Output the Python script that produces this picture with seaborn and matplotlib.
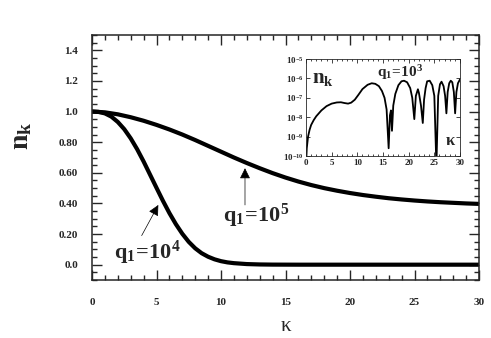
import numpy as np
import pandas as pd
import matplotlib
matplotlib.use('Agg')
import matplotlib.pyplot as plt
import seaborn as sns
from matplotlib.ticker import MultipleLocator, FixedLocator, FixedFormatter

# ---------------------------------------------------------
# data
# ---------------------------------------------------------
kappa_q1e4 = [0, 0.5, 1, 1.5, 2, 2.5, 3, 3.5, 4, 4.5, 5, 5.5, 6, 6.5, 7, 7.5,
              8, 8.5, 9, 9.5, 10, 10.5, 11, 12, 13, 14, 16, 20, 25, 30]
n_q1e4 = [1.000, 0.998, 0.988, 0.967, 0.932, 0.885, 0.825, 0.754, 0.674,
          0.588, 0.502, 0.417, 0.337, 0.265, 0.202, 0.149, 0.107, 0.075,
          0.052, 0.035, 0.023, 0.015, 0.010, 0.004, 0.0015, 0.0005, 0.0, 0.0,
          0.0, 0.0]

kappa_q1e5 = [0, 1, 2, 3, 4, 5, 6, 7, 8, 9, 10, 11, 12, 13, 14, 15, 16, 17,
              18, 19, 20, 21, 22, 23, 24, 25, 26, 27, 28, 29, 30]
n_q1e5 = [1.000, 0.995, 0.982, 0.963, 0.940, 0.913, 0.883, 0.850, 0.814,
          0.776, 0.738, 0.700, 0.664, 0.630, 0.598, 0.569, 0.543, 0.520,
          0.500, 0.483, 0.468, 0.455, 0.444, 0.434, 0.426, 0.419, 0.413,
          0.408, 0.404, 0.400, 0.397]

# inset, q1 = 10^3, log10(n_k)
kappa_q1e3 = [0, 0.15, 0.4, 0.7, 1.0, 1.5, 2, 3, 4, 5, 6, 6.8, 7.5, 8.2, 8.8,
              9.5, 10.2, 11, 12, 12.8, 13.5, 14.2, 14.8, 15.3, 15.7, 16.1,
              16.35, 16.55, 16.75, 17.0, 17.4, 18, 18.6, 19.1, 19.7, 20.3,
              20.7, 21.1, 21.4, 21.8, 22.0, 22.4, 22.75, 23.0, 23.3, 23.6,
              24.1, 24.6, 25.0, 25.4, 25.75, 26.1, 26.4, 26.8, 27.1, 27.35,
              27.6, 27.9, 28.2, 28.5, 28.8, 29.05, 29.3, 29.6, 30]
logn_q1e3 = [-10.5, -9.6, -9.0, -8.65, -8.4, -8.15, -7.95, -7.65, -7.43, -7.3,
             -7.24, -7.23, -7.27, -7.3, -7.25, -7.1, -6.85, -6.55, -6.33,
             -6.25, -6.28, -6.4, -6.65, -7.0, -7.6, -9.6, -7.9, -7.65, -8.7,
             -7.4, -6.8, -6.35, -6.15, -6.12, -6.2, -6.5, -7.0, -8.1, -6.9,
             -6.56, -6.75, -7.4, -8.3, -7.1, -6.5, -6.15, -6.12, -6.35, -6.9,
             -10.5, -6.9, -6.3, -6.17, -6.4, -6.9, -7.8, -6.7, -6.25, -6.12,
             -6.2, -6.7, -7.8, -6.7, -6.25, -6.05]

main_xticks = [0, 5, 10, 15, 20, 25, 30]
main_yticks = [0.0, 0.2, 0.4, 0.6, 0.8, 1.0, 1.2, 1.4]
main_ylabels = ['0.0', '0.20', '0.40', '0.60', '0.80', '1.0', '1.2', '1.4']
inset_yticks = [1e-10, 1e-9, 1e-8, 1e-7, 1e-6, 1e-5]
inset_ylabels = [r'$10^{-10}$', r'$10^{-9}$', r'$10^{-8}$', r'$10^{-7}$',
                 r'$10^{-6}$', r'$10^{-5}$']

# ---------------------------------------------------------
# style
# ---------------------------------------------------------
sns.set_style('ticks')
plt.rcParams['font.family'] = ['Liberation Serif', 'DejaVu Serif']
plt.rcParams['font.weight'] = 'bold'
plt.rcParams['mathtext.fontset'] = 'custom'
plt.rcParams['mathtext.rm'] = 'Liberation Serif:bold'
plt.rcParams['mathtext.it'] = 'Liberation Serif:bold'
plt.rcParams['mathtext.bf'] = 'Liberation Serif:bold'
plt.rcParams['axes.linewidth'] = 1.1

fig = plt.figure(figsize=(4.91, 3.38), dpi=100)
ax = fig.add_axes([92 / 491, 1 - 280 / 338, (479 - 92) / 491, (280 - 35) / 338])

df4 = pd.DataFrame({'kappa': kappa_q1e4, 'n': n_q1e4})
df5 = pd.DataFrame({'kappa': kappa_q1e5, 'n': n_q1e5})
sns.lineplot(data=df4, x='kappa', y='n', color='black', lw=3.0,
             estimator=None, sort=False, ax=ax)
sns.lineplot(data=df5, x='kappa', y='n', color='black', lw=3.0,
             estimator=None, sort=False, ax=ax)

ax.set_xlim(0, 30)
ax.set_ylim(-0.1, 1.5)
ax.xaxis.set_major_locator(FixedLocator(main_xticks))
ax.xaxis.set_minor_locator(MultipleLocator(1))
ax.yaxis.set_major_locator(FixedLocator(main_yticks))
ax.yaxis.set_major_formatter(FixedFormatter(main_ylabels))
ax.yaxis.set_minor_locator(MultipleLocator(0.05))
ax.tick_params(which='both', direction='in', top=True, right=True,
               labelsize=8, width=1.0)
ax.tick_params(which='major', length=7)
ax.tick_params(which='minor', length=3.5)
ax.tick_params(axis='y', pad=10)
ax.tick_params(axis='x', pad=13)

ax.set_xlabel('κ', fontsize=15, labelpad=7)
ax.set_ylabel(r'$n_k$', fontsize=20)
ax.yaxis.set_label_coords(-0.15, 0.59)

# annotations
arrow = dict(arrowstyle='-|>', color='black', lw=0.5, mutation_scale=16,
             shrinkA=0, shrinkB=0)
ax.annotate('', xy=(5.14, 0.39), xytext=(3.85, 0.19), arrowprops=arrow)
ax.annotate('', xy=(11.86, 0.63), xytext=(11.86, 0.39), arrowprops=arrow)
ax.text(4.3, 0.08, r'$q_1\!=\!10^4$', fontsize=16, ha='center', va='center')
ax.text(12.7, 0.32, r'$q_1\!=\!10^5$', fontsize=16, ha='center', va='center')

# ---------------------------------------------------------
# inset
# ---------------------------------------------------------
ins = fig.add_axes([306 / 491, 1 - 156 / 338, (460 - 306) / 491, (156 - 59) / 338])
df3 = pd.DataFrame({'kappa': kappa_q1e3, 'n': 10.0 ** np.array(logn_q1e3)})
sns.lineplot(data=df3, x='kappa', y='n', color='black', lw=1.3,
             estimator=None, sort=False, ax=ins)
ins.set_yscale('log')
ins.set_xlim(0, 30)
ins.set_ylim(1e-10, 1e-5)
ins.xaxis.set_major_locator(MultipleLocator(5))
ins.xaxis.set_minor_locator(MultipleLocator(1))
ins.yaxis.set_major_locator(FixedLocator(inset_yticks))
ins.yaxis.set_major_formatter(FixedFormatter(inset_ylabels))
ins.yaxis.set_minor_locator(FixedLocator([]))
ins.tick_params(which='both', direction='in', top=True, right=True,
                labelsize=6.5, pad=2, width=0.6)
ins.tick_params(which='major', length=3)
ins.tick_params(which='minor', length=1.5)
for s in ins.spines.values():
    s.set_linewidth(0.6)
ins.set_xlabel('')
ins.set_ylabel('')
ins.text(0.04, 0.80, r'$n_k$', transform=ins.transAxes, fontsize=15,
         ha='left', va='center')
ins.text(0.61, 0.86, r'$q_1\!=\!10^3$', transform=ins.transAxes,
         fontsize=11, ha='center', va='center')
ins.text(0.94, 0.15, 'κ', transform=ins.transAxes, fontsize=12,
         ha='center', va='center')

fig.savefig('out.png', dpi=100)
